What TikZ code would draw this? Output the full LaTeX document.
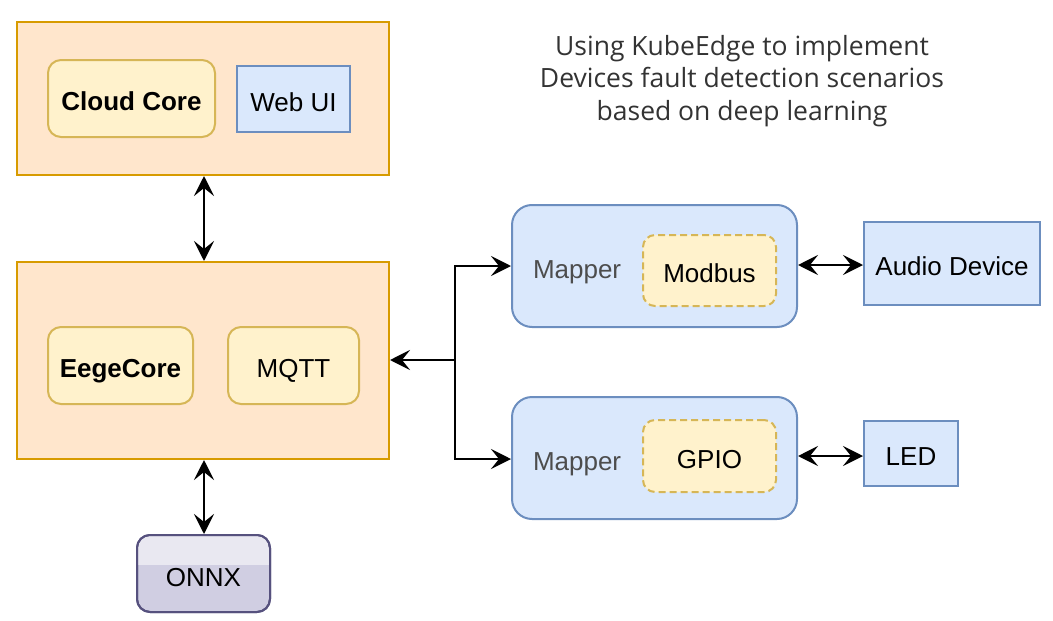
\documentclass[tikz,border=0pt]{standalone}
\usepackage{fontspec}
\setmainfont{Liberation Sans}
\newfontfamily\titlefont{Open Sans}
\usetikzlibrary{arrows.meta}
\definecolor{orfill}{HTML}{FFE6CC}
\definecolor{ordraw}{HTML}{D79B00}
\definecolor{yefill}{HTML}{FFF2CC}
\definecolor{yedraw}{HTML}{D6B656}
\definecolor{blfill}{HTML}{DAE8FC}
\definecolor{bldraw}{HTML}{6C8EBF}
\definecolor{pufill}{HTML}{D0CEE2}
\definecolor{pudraw}{HTML}{56517E}
\definecolor{graytext}{HTML}{4D4D4D}
\definecolor{titletext}{HTML}{333333}
\tikzset{
  x=1pt, y=-1pt,
  every node/.style={font=\fontsize{26}{31}\selectfont, inner sep=0pt, line width=2pt, text height=24pt, text depth=0pt},
  orbox/.style={draw=ordraw, fill=orfill, rectangle},
  yebox/.style={draw=yedraw, fill=yefill, rectangle, rounded corners=13pt},
  blbox/.style={draw=bldraw, fill=blfill, rectangle},
  mapbox/.style={draw=bldraw, fill=blfill, rectangle, rounded corners=20pt},
  dashbox/.style={draw=yedraw, fill=yefill, rectangle, rounded corners=12pt, dash pattern=on 7pt off 4pt},
  conn/.style={line width=2.75pt, draw=black, {Stealth[length=20pt,width=20pt,inset=8pt]}-{Stealth[length=20pt,width=20pt,inset=8pt]}},
  conn1/.style={line width=2.75pt, draw=black, -{Stealth[length=20pt,width=20pt,inset=8pt]}},
}
\begin{document}
\begin{tikzpicture}
\useasboundingbox (0,0) rectangle (1053,621);
% cloud
\node[orbox, minimum width=372pt, minimum height=153pt] (cloud) at (203,98.5) {};
\node[yebox, minimum width=167pt, minimum height=77pt, font=\fontsize{26}{31}\selectfont\bfseries] (cloudcore) at (131.5,98.5) {Cloud Core};
\node[blbox, minimum width=113pt, minimum height=66pt] (webui) at (293.5,99) {Web UI};
% edge
\node[orbox, minimum width=372pt, minimum height=197pt] (edge) at (203,360.5) {};
\node[yebox, minimum width=145pt, minimum height=77pt, font=\fontsize{26}{31}\selectfont\bfseries] (eegecore) at (120.5,365.5) {EegeCore};
\node[yebox, minimum width=131pt, minimum height=77pt] (mqtt) at (293.5,365.5) {MQTT};
% onnx
\node[draw=pudraw, fill=pufill, rounded corners=13pt, minimum width=133pt, minimum height=77pt] (onnx) at (203.5,573.5) {};
\begin{scope}
\clip[rounded corners=12pt] (138,536) rectangle (269,611);
\fill[white, opacity=0.55] (138,536) rectangle (269,565);
\end{scope}
\draw[pudraw, line width=2pt, rounded corners=13pt] (137,535) rectangle (270,612);
\node at (203.5,574) {ONNX};
% mappers
\node[mapbox, minimum width=285pt, minimum height=122pt] (map1) at (654.5,266) {};
\node[anchor=west, text=graytext] (map1t) at (532,266) {Mapper};
\node[dashbox, minimum width=133pt, minimum height=71pt] (modbus) at (709.5,270.5) {Modbus};
\node[mapbox, minimum width=285pt, minimum height=122pt] (map2) at (654.5,458) {};
\node[anchor=west, text=graytext] (map2t) at (532,458) {Mapper};
\node[dashbox, minimum width=133pt, minimum height=72pt] (gpio) at (709.5,456) {GPIO};
% devices
\node[blbox, minimum width=176pt, minimum height=83pt] (audio) at (952,263.5) {Audio Device};
\node[blbox, minimum width=94pt, minimum height=65pt] (led) at (911,453.5) {LED};
% title
\node[font=\titlefont\fontsize{26.5}{32.5}\selectfont, text=titletext, align=center, text height=, text depth=] (title) at (742,81) {Using KubeEdge to implement\\Devices fault detection scenarios\\based on deep learning};
% connectors
\coordinate (j) at (455,360);
\draw[conn] (cloud.south -| 204,0) -- (edge.north -| 204,0);
\draw[conn] (edge.south -| 204,0) -- (onnx.north -| 204,0);
\draw[conn1] (j) -- (edge.east |- j);
\draw[conn1] (j) |- (map1.west |- 0,266);
\draw[conn1] (j) |- (map2.west |- 0,459);
\draw[conn] (map1.east |- 0,265) -- (audio.west |- 0,265);
\draw[conn] (map2.east |- 0,456) -- (led.west |- 0,456);
\end{tikzpicture}
\end{document}
